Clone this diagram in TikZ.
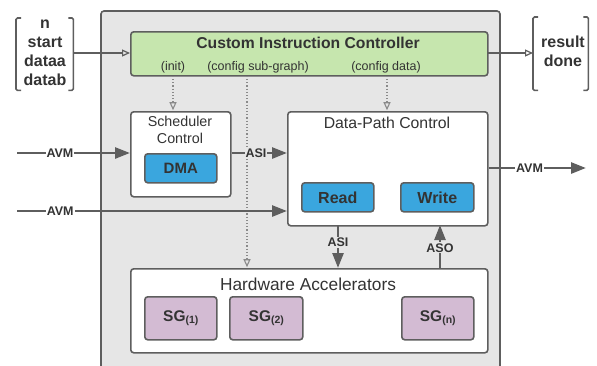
\documentclass[tikz,border=0pt]{standalone}
\usepackage{fontspec}
\setmainfont{Liberation Sans}
\usetikzlibrary{arrows.meta,calc}
\definecolor{edge}{HTML}{5E5E5E}
\definecolor{txt}{HTML}{333333}
\definecolor{outerfill}{HTML}{E6E6E6}
\definecolor{greenfill}{HTML}{C6E6AE}
\definecolor{bluefill}{HTML}{3AA6DE}
\definecolor{purplefill}{HTML}{D3BBD3}
\definecolor{dotc}{HTML}{8A8A8A}
\tikzset{
  blk/.style={draw=edge, line width=1.6pt, rounded corners=3pt, inner sep=0pt},
  txtn/.style={text=txt, inner sep=0pt, font=#1},
  bus/.style={draw=edge, line width=2.6pt, -{Triangle[length=15pt,width=11pt]}},
  thinarr/.style={draw=edge, line width=1.2pt, -{Triangle[open,length=8pt,width=7pt,line width=1.2pt]}},
  dotarr/.style={draw=dotc, line width=1.2pt, dotted, -{Triangle[open,length=8pt,width=7pt,line width=1.1pt]}},
  buslbl/.style={text=txt, font=\fontsize{12.5}{14}\selectfont\bfseries, inner sep=1pt},
  brk/.style={draw=edge, line width=1.6pt, rounded corners=1.5pt},
}
\begin{document}
\begin{tikzpicture}[x=1pt,y=-1pt]
\useasboundingbox (0,0) rectangle (597,365);
% outer container
\path[blk, fill=outerfill] (101,11) rectangle (500,378);
% boxes
\node[blk, fill=greenfill, anchor=north west, minimum width=357pt, minimum height=44pt] (cic) at (130,31) {};
\node[blk, fill=white, anchor=north west, minimum width=100pt, minimum height=85pt] (sch) at (130,111) {};
\node[blk, fill=bluefill, anchor=north west, minimum width=72pt, minimum height=29pt] (dma) at (144,153) {};
\node[blk, fill=white, anchor=north west, minimum width=200pt, minimum height=114pt] (dpc) at (287,111) {};
\node[blk, fill=bluefill, anchor=north west, minimum width=72pt, minimum height=29pt] (rd) at (301,182) {};
\node[blk, fill=bluefill, anchor=north west, minimum width=73pt, minimum height=29pt] (wr) at (400,182) {};
\node[blk, fill=white, anchor=north west, minimum width=357pt, minimum height=84pt] (ha) at (130,268) {};
\node[blk, fill=purplefill, anchor=north west, minimum width=72pt, minimum height=43pt] (sg1) at (144,296) {};
\node[blk, fill=purplefill, anchor=north west, minimum width=73pt, minimum height=43pt] (sg2) at (229,296) {};
\node[blk, fill=purplefill, anchor=north west, minimum width=72pt, minimum height=43pt] (sgn) at (401,296) {};
% texts
\node[txtn=\fontsize{15.7}{18}\selectfont\bfseries] (cict) at (308,42.5) {Custom Instruction Controller};
\node[txtn=\fontsize{12.5}{14}\selectfont] (init) at (173,67) {(init)};
\node[txtn=\fontsize{12.5}{14}\selectfont] (csg) at (258,67) {(config sub-graph)};
\node[txtn=\fontsize{12.5}{14}\selectfont] (cdt) at (386,67) {(config data)};
\node[txtn=\fontsize{14.3}{17}\selectfont, align=center] (scht) at (180,130) {Scheduler\\Control};
\node[txtn=\fontsize{15}{17}\selectfont\bfseries] (dmat) at (dma) {DMA};
\node[txtn=\fontsize{15.8}{18}\selectfont] (dpct) at (387,122.5) {Data-Path Control};
\node[txtn=\fontsize{16}{18}\selectfont\bfseries] (rdt) at (rd) {Read};
\node[txtn=\fontsize{16}{18}\selectfont\bfseries] (wrt) at (wr) {Write};
\node[txtn=\fontsize{17.3}{20}\selectfont] (hat) at (308,284) {Hardware Accelerators};
\node[txtn=\fontsize{15.5}{18}\selectfont\bfseries] (sg1t) at (sg1) {SG\raisebox{-2pt}{\fontsize{10.5}{11}\selectfont(1)}};
\node[txtn=\fontsize{15.5}{18}\selectfont\bfseries] (sg2t) at (sg2) {SG\raisebox{-2pt}{\fontsize{10.5}{11}\selectfont(2)}};
\node[txtn=\fontsize{15.5}{18}\selectfont\bfseries] (sgnt) at (sgn) {SG\raisebox{-2pt}{\fontsize{10.5}{11}\selectfont(n)}};
% brackets
\node[anchor=north west, minimum width=57pt, minimum height=72pt, inner sep=0pt] (lb) at (16,18) {};
\draw[brk] ($(lb.north west)+(5,0)$) -- (lb.north west) -- (lb.south west) -- ++(5,0);
\draw[brk] ($(lb.north east)+(-5,0)$) -- (lb.north east) -- (lb.south east) -- ++(-5,0);
\node[txtn=\fontsize{16}{19}\selectfont\bfseries, align=center] (lbt) at (45,53) {n\\start\\dataa\\datab};
\node[anchor=north west, minimum width=55pt, minimum height=73pt, inner sep=0pt] (rb) at (533,17) {};
\draw[brk] ($(rb.north west)+(5,0)$) -- (rb.north west) -- (rb.south west) -- ++(5,0);
\draw[brk] ($(rb.north east)+(-5,0)$) -- (rb.north east) -- (rb.south east) -- ++(-5,0);
\node[txtn=\fontsize{16}{19}\selectfont\bfseries, align=center] (rbt) at (563,51.5) {result\\done};
% bracket connectors
\draw[thinarr] (73,53) -- (130,53);
\draw[thinarr] (487,53) -- (533,53);
% dotted config arrows
\draw[dotarr] (173,75.8) -- (173,110.2);
\draw[dotarr] (247,75.8) -- (247,267.2);
\draw[dotarr] (387,75.8) -- (387,110.2);
% bus coordinates
\coordinate (avm1s) at (17,153);
\coordinate (avm2s) at (17,211);
\coordinate (avm3e) at (586,168);
% buses
\draw[bus] (avm1s) -- (avm1s -| sch.west) node[buslbl, fill=white, pos=0.38] (l1) {AVM};
\draw[bus] (avm2s) -- (avm2s -| dpc.west) node[buslbl, fill=white, pos=0.16] (l2) {AVM};
\draw[bus] (avm3e -| dpc.east) -- (avm3e) node[buslbl, fill=white, pos=0.42] (l3) {AVM};
\draw[bus] (sch.east |- avm1s) -- (dpc.west |- avm1s) node[buslbl, fill=outerfill, pos=0.44] (l4) {ASI};
\draw[bus] (338,225) -- (338,268) node[buslbl, fill=outerfill, pos=0.4] (l5) {ASI};
\draw[bus] (440,268) -- (440,225) node[buslbl, fill=outerfill, pos=0.47] (l6) {ASO};
\end{tikzpicture}
\end{document}
